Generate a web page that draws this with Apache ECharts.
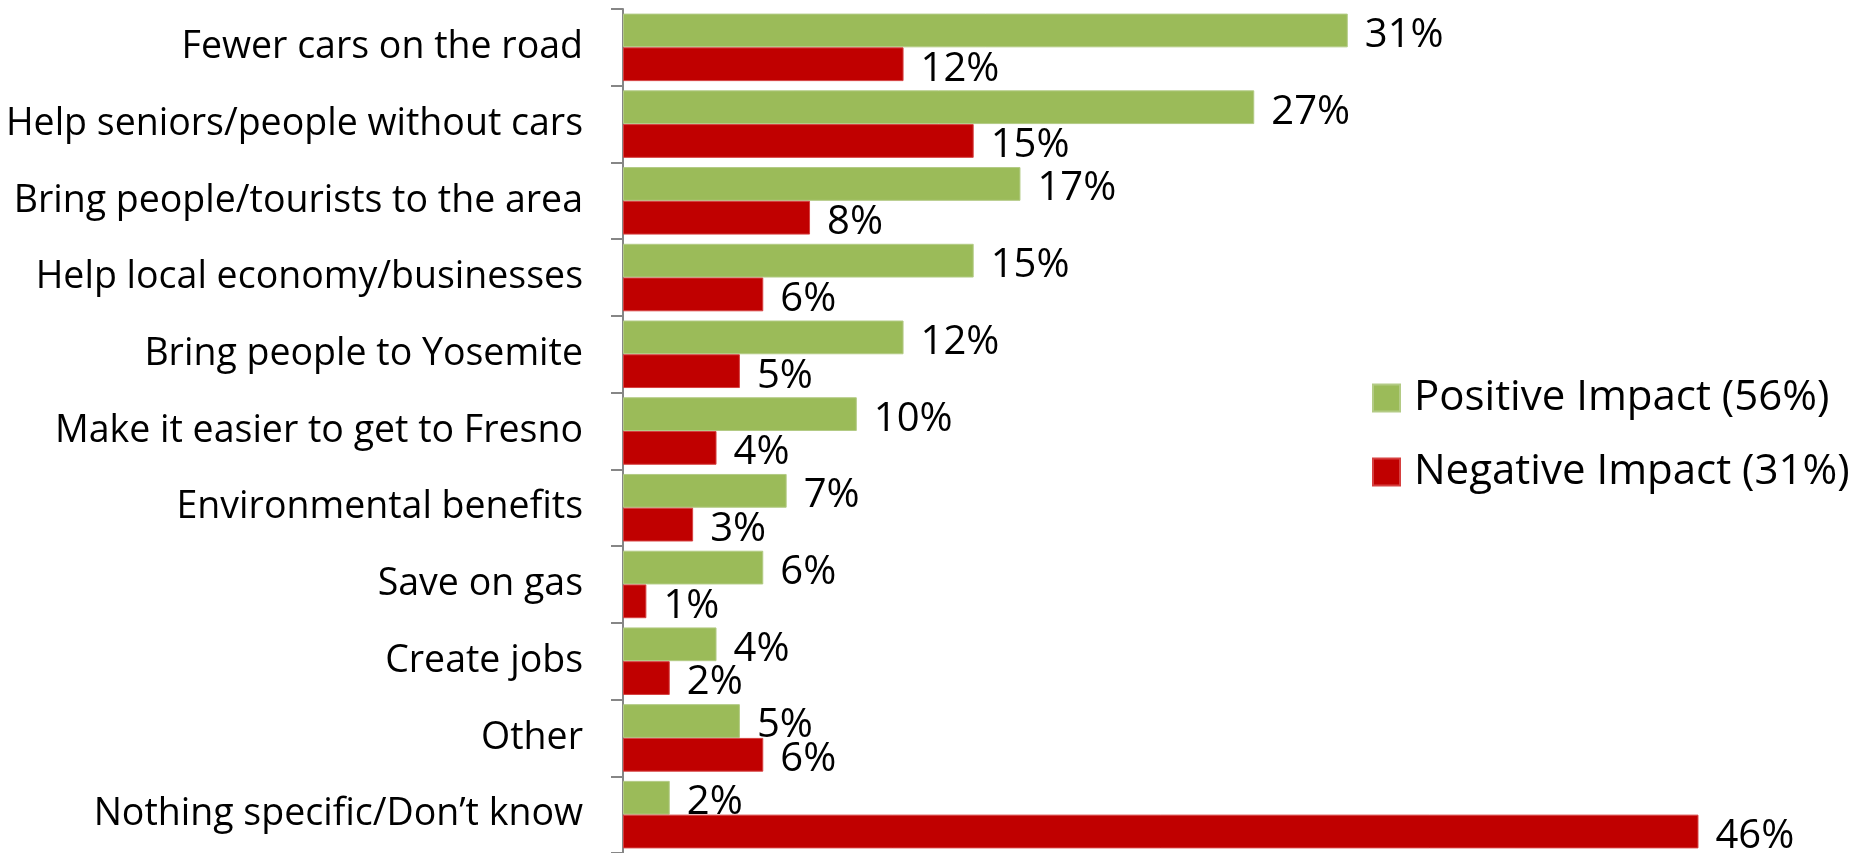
<!DOCTYPE html>
<html>
<head>
<meta charset="utf-8">
<script src="https://cdn.jsdelivr.net/npm/echarts@6/dist/echarts.min.js"></script>
<style>
  html, body { margin: 0; padding: 0; background: #fff; }
  #chart { width: 1866px; height: 853px; }
</style>
</head>
<body>
<div id="chart"></div>
<script>
let categories = ['Fewer cars on the road', 'Help seniors/people without cars', 'Bring people/tourists to the area',
  'Help local economy/businesses', 'Bring people to Yosemite', 'Make it easier to get to Fresno',
  'Environmental benefits', 'Save on gas', 'Create jobs', 'Other', 'Nothing specific/Don\u2019t know']
let positiveData = [31, 27, 17, 15, 12, 10, 7, 6, 4, 5, 2]
let negativeData = [12, 15, 8, 6, 5, 4, 3, 1, 2, 6, 46]
let seriesNames = ['Positive Impact (56%)', 'Negative Impact (31%)']

let font = '"Open Sans", sans-serif'
let myChart = echarts.init(document.getElementById('chart'))

let valueLabel = {
  show: true,
  position: 'right',
  distance: 17,
  formatter: '{c}%',
  color: '#000',
  fontFamily: font,
  fontSize: 40,
  offset: [0, 5]
}

myChart.setOption({
  animation: false,
  textStyle: { fontFamily: font },
  grid: {
    left: 623,
    top: 9,
    width: 1169,
    height: 848
  },
  legend: {
    orient: 'vertical',
    left: 1372,
    top: 377,
    padding: 0,
    itemWidth: 27,
    itemHeight: 27,
    itemGap: 32,
    icon: 'rect',
    data: seriesNames,
    textStyle: {
      fontFamily: font,
      fontSize: 42,
      color: '#000',
      lineHeight: 27,
      height: 27,
      padding: [0, 0, 0, 9]
    }
  },
  xAxis: {
    type: 'value',
    min: 0,
    max: 50,
    show: false
  },
  yAxis: {
    type: 'category',
    inverse: true,
    data: categories,
    axisLine: { show: true, lineStyle: { color: '#868686', width: 2 } },
    axisTick: { show: true, length: 12, lineStyle: { color: '#868686', width: 2 } },
    axisLabel: {
      margin: 40,
      color: '#000',
      fontFamily: font,
      fontSize: 37.5
    }
  },
  series: [
    {
      name: seriesNames[0],
      type: 'bar',
      data: positiveData,
      barGap: 0,
      barCategoryGap: '12%',
      itemStyle: { color: '#9BBB59', borderColor: '#b3cb85', borderWidth: 1 },
      label: valueLabel
    },
    {
      name: seriesNames[1],
      type: 'bar',
      data: negativeData,
      barGap: 0,
      barCategoryGap: '12%',
      itemStyle: { color: '#C00000', borderColor: '#d64040', borderWidth: 1 },
      label: valueLabel
    }
  ]
})
</script>
</body>
</html>
